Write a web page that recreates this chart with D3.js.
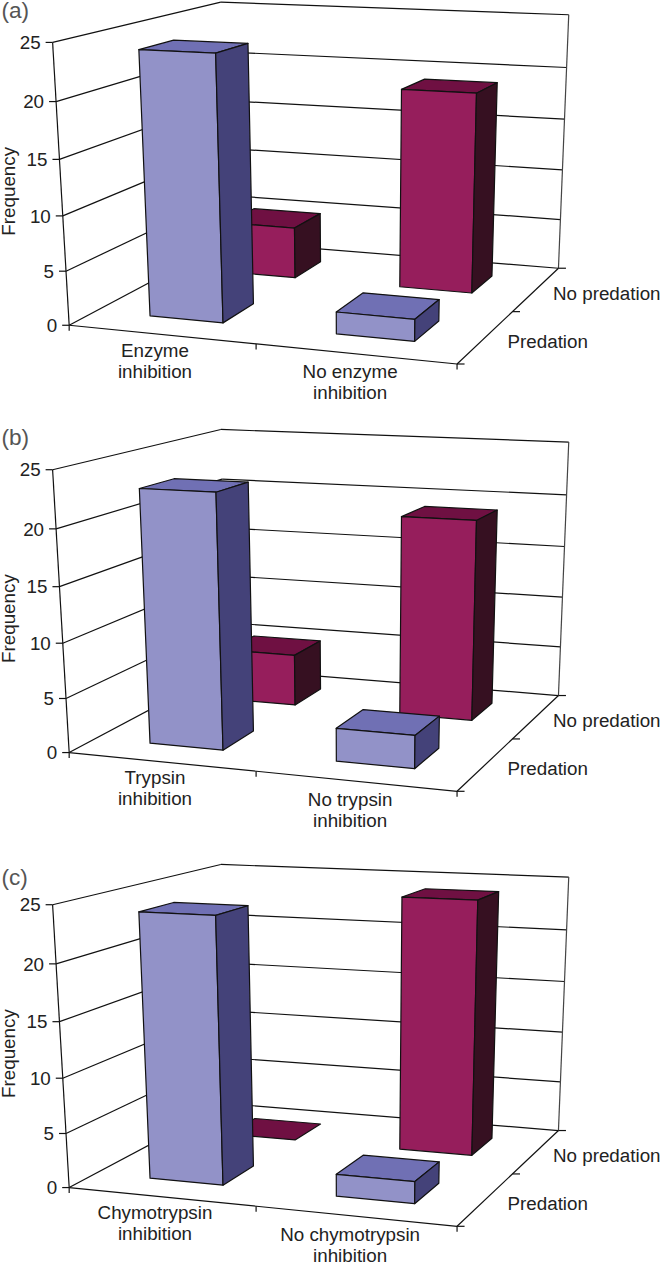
<!DOCTYPE html>
<html>
<head>
<meta charset="utf-8">
<script src="https://cdn.jsdelivr.net/npm/d3@7"></script>
<style>
  body { margin: 0; background: #fff; }
  text { font-family: "Liberation Sans", Arial, sans-serif; font-size: 18.8px; fill: #222; }
  .panelLabel { font-size: 22.6px; fill: #555; }
</style>
</head>
<body>
<svg id="chart" width="661" height="1263"></svg>
<script>
"use strict";

// values
const panelLabels = ["(a)", "(b)", "(c)"];
const seriesLabels = ["Predation", "No predation"];
const categoryLabels = [
  [["Enzyme", "inhibition"], ["No enzyme", "inhibition"]],
  [["Trypsin", "inhibition"], ["No trypsin", "inhibition"]],
  [["Chymotrypsin", "inhibition"], ["No chymotrypsin", "inhibition"]]
];
const predationValues = [[24, 2], [23, 3], [24, 2]];
const noPredationValues = [[5, 19], [5, 19], [0, 24]];
const yTicks = [0, 5, 10, 15, 20, 25];
const yTitle = "Frequency";

// layout
const panelOffsets = [0, 427.3, 862.3];
const panelLabelBaselines = [18, 444.5, 884.5];
const xLabelOffsets = [[-6, 22.5], [-4.6, 24.6]];
const depthLabelOffsets = [[21.4, 11.3], [16.5, 11.2]];

// room corners in pixels for panel (a): [u, h, w, x, y]
const corners = [
  [0, 0, 0, 68.3, 325],
  [1, 0, 0, 457.3, 364],
  [1, 0, 1, 558, 268.3],
  [0, 0, 1, 228, 241.5],
  [0, 1, 0, 53.3, 42.7],
  [0, 1, 1, 220, 2],
  [1, 1, 1, 569, 14.7]
];

const colors = {
  predation: { front: "#9292c8", top: "#7070b4", side: "#444279" },
  noPredation: { front: "#961e5c", top: "#6f1042", side: "#361021" }
};

let svg = d3.select("#chart");
let lineGen = d3.line();

let xScale = d3.scaleBand().domain([0, 1]).range([0, 1]).paddingInner(0.6).paddingOuter(0.3);
let depthScale = d3.scaleBand().domain(seriesLabels).range([0, 1]).paddingInner(0.6).paddingOuter(0.3);
let heightScale = d3.scaleLinear().domain([0, 25]).range([0, 1]);

let camera = solveCamera(corners);

function solveCamera(points) {
  // least squares for the 3x4 perspective matrix, last entry fixed at 1
  let rows = [];
  let rhs = [];
  points.forEach(([u, h, w, x, y]) => {
    rows.push([u, h, w, 1, 0, 0, 0, 0, -x * u, -x * h, -x * w]);
    rhs.push(x);
    rows.push([0, 0, 0, 0, u, h, w, 1, -y * u, -y * h, -y * w]);
    rhs.push(y);
  });

  let n = 11;
  let m = d3.range(n).map((i) => {
    let row = d3.range(n).map((j) => d3.sum(rows, (r) => r[i] * r[j]));
    row.push(d3.sum(rows, (r, k) => r[i] * rhs[k]));
    return row;
  });

  for (let i = 0; i < n; i++) {
    let pivot = d3.range(i, n).reduce((a, b) => Math.abs(m[b][i]) > Math.abs(m[a][i]) ? b : a, i);
    [m[i], m[pivot]] = [m[pivot], m[i]];
    for (let k = 0; k < n; k++) {
      if (k === i) continue;
      let f = m[k][i] / m[i][i];
      for (let j = i; j <= n; j++) m[k][j] -= f * m[i][j];
    }
  }
  return d3.range(n).map((i) => m[i][n] / m[i][i]);
}

function project(u, h, w) {
  let c = camera;
  let d = c[8] * u + c[9] * h + c[10] * w + 1;
  return [
    (c[0] * u + c[1] * h + c[2] * w + c[3]) / d,
    (c[4] * u + c[5] * h + c[6] * w + c[7]) / d
  ];
}

function segment(g, a, b, color) {
  g.append("path")
    .attr("d", lineGen([a, b]))
    .attr("fill", "none")
    .attr("stroke", color || "#111")
    .attr("stroke-width", 1.2);
}

function drawRoom(g) {
  // gridlines on the side wall and the back wall
  yTicks.forEach((t) => {
    let h = heightScale(t);
    segment(g, project(0, h, 0), project(0, h, 1));
    segment(g, project(0, h, 1), project(1, h, 1));
    // tick and number on the front corner
    let p = project(0, h, 0);
    segment(g, p, [p[0] - 7, p[1]]);
    g.append("text")
      .attr("x", p[0] - 12)
      .attr("y", p[1])
      .attr("dy", "0.36em")
      .attr("text-anchor", "end")
      .text(t);
  });

  segment(g, project(0, 0, 0), project(0, 1, 0));
  segment(g, project(1, 0, 1), project(1, 1, 1), "#444");

  // floor edges
  segment(g, project(0, 0, 0), project(1, 0, 0));
  segment(g, project(1, 0, 0), project(1, 0, 1));

  [0, 0.5, 1].forEach((u) => {
    let p = project(u, 0, 0);
    segment(g, p, [p[0], p[1] + 5.5]);
  });
  [0, 0.5, 1].forEach((w) => {
    let p = project(1, 0, w);
    segment(g, p, [p[0] + 7.5, p[1]]);
  });
}

function drawBar(g, category, seriesName, value, color) {
  let u0 = xScale(category);
  let u1 = u0 + xScale.bandwidth();
  let w0 = depthScale(seriesName);
  let w1 = w0 + depthScale.bandwidth();
  let h = heightScale(value);

  let faces = [
    { pts: [[u0, h, w0], [u1, h, w0], [u1, h, w1], [u0, h, w1]], fill: color.top }
  ];
  if (value > 0) {
    faces.push({ pts: [[u0, 0, w0], [u1, 0, w0], [u1, h, w0], [u0, h, w0]], fill: color.front });
    faces.push({ pts: [[u1, 0, w0], [u1, 0, w1], [u1, h, w1], [u1, h, w0]], fill: color.side });
  }

  g.selectAll(null)
    .data(faces)
    .enter()
    .append("path")
    .attr("d", (d) => lineGen(d.pts.map((p) => project(p[0], p[1], p[2]))) + "Z")
    .attr("fill", (d) => d.fill)
    .attr("stroke", "#111")
    .attr("stroke-width", 1.2)
    .attr("stroke-linejoin", "round");
}

function drawPanel(index) {
  let g = svg.append("g").attr("transform", `translate(0,${panelOffsets[index]})`);

  svg.append("text")
    .attr("class", "panelLabel")
    .attr("x", 1.5)
    .attr("y", panelLabelBaselines[index])
    .text(panelLabels[index]);

  drawRoom(g);

  // back row first so the front row covers it
  [0, 1].forEach((c) => drawBar(g, c, seriesLabels[1], noPredationValues[index][c], colors.noPredation));
  [0, 1].forEach((c) => drawBar(g, c, seriesLabels[0], predationValues[index][c], colors.predation));

  g.append("text")
    .attr("transform", "translate(15,191.3) rotate(-90)")
    .attr("text-anchor", "middle")
    .text(yTitle);

  categoryLabels[index].forEach((lines, c) => {
    let p = project(xScale(c) + xScale.bandwidth() / 2, 0, 0);
    lines.forEach((line, i) => {
      g.append("text")
        .attr("x", p[0] + xLabelOffsets[c][0])
        .attr("y", p[1] + xLabelOffsets[c][1] + i * 21)
        .attr("text-anchor", "middle")
        .text(line);
    });
  });

  seriesLabels.forEach((name, s) => {
    let p = project(1, 0, depthScale(name) + depthScale.bandwidth() / 2);
    g.append("text")
      .attr("x", p[0] + depthLabelOffsets[s][0])
      .attr("y", p[1] + depthLabelOffsets[s][1])
      .text(name);
  });
}

panelLabels.forEach((d, i) => drawPanel(i));
</script>
</body>
</html>
